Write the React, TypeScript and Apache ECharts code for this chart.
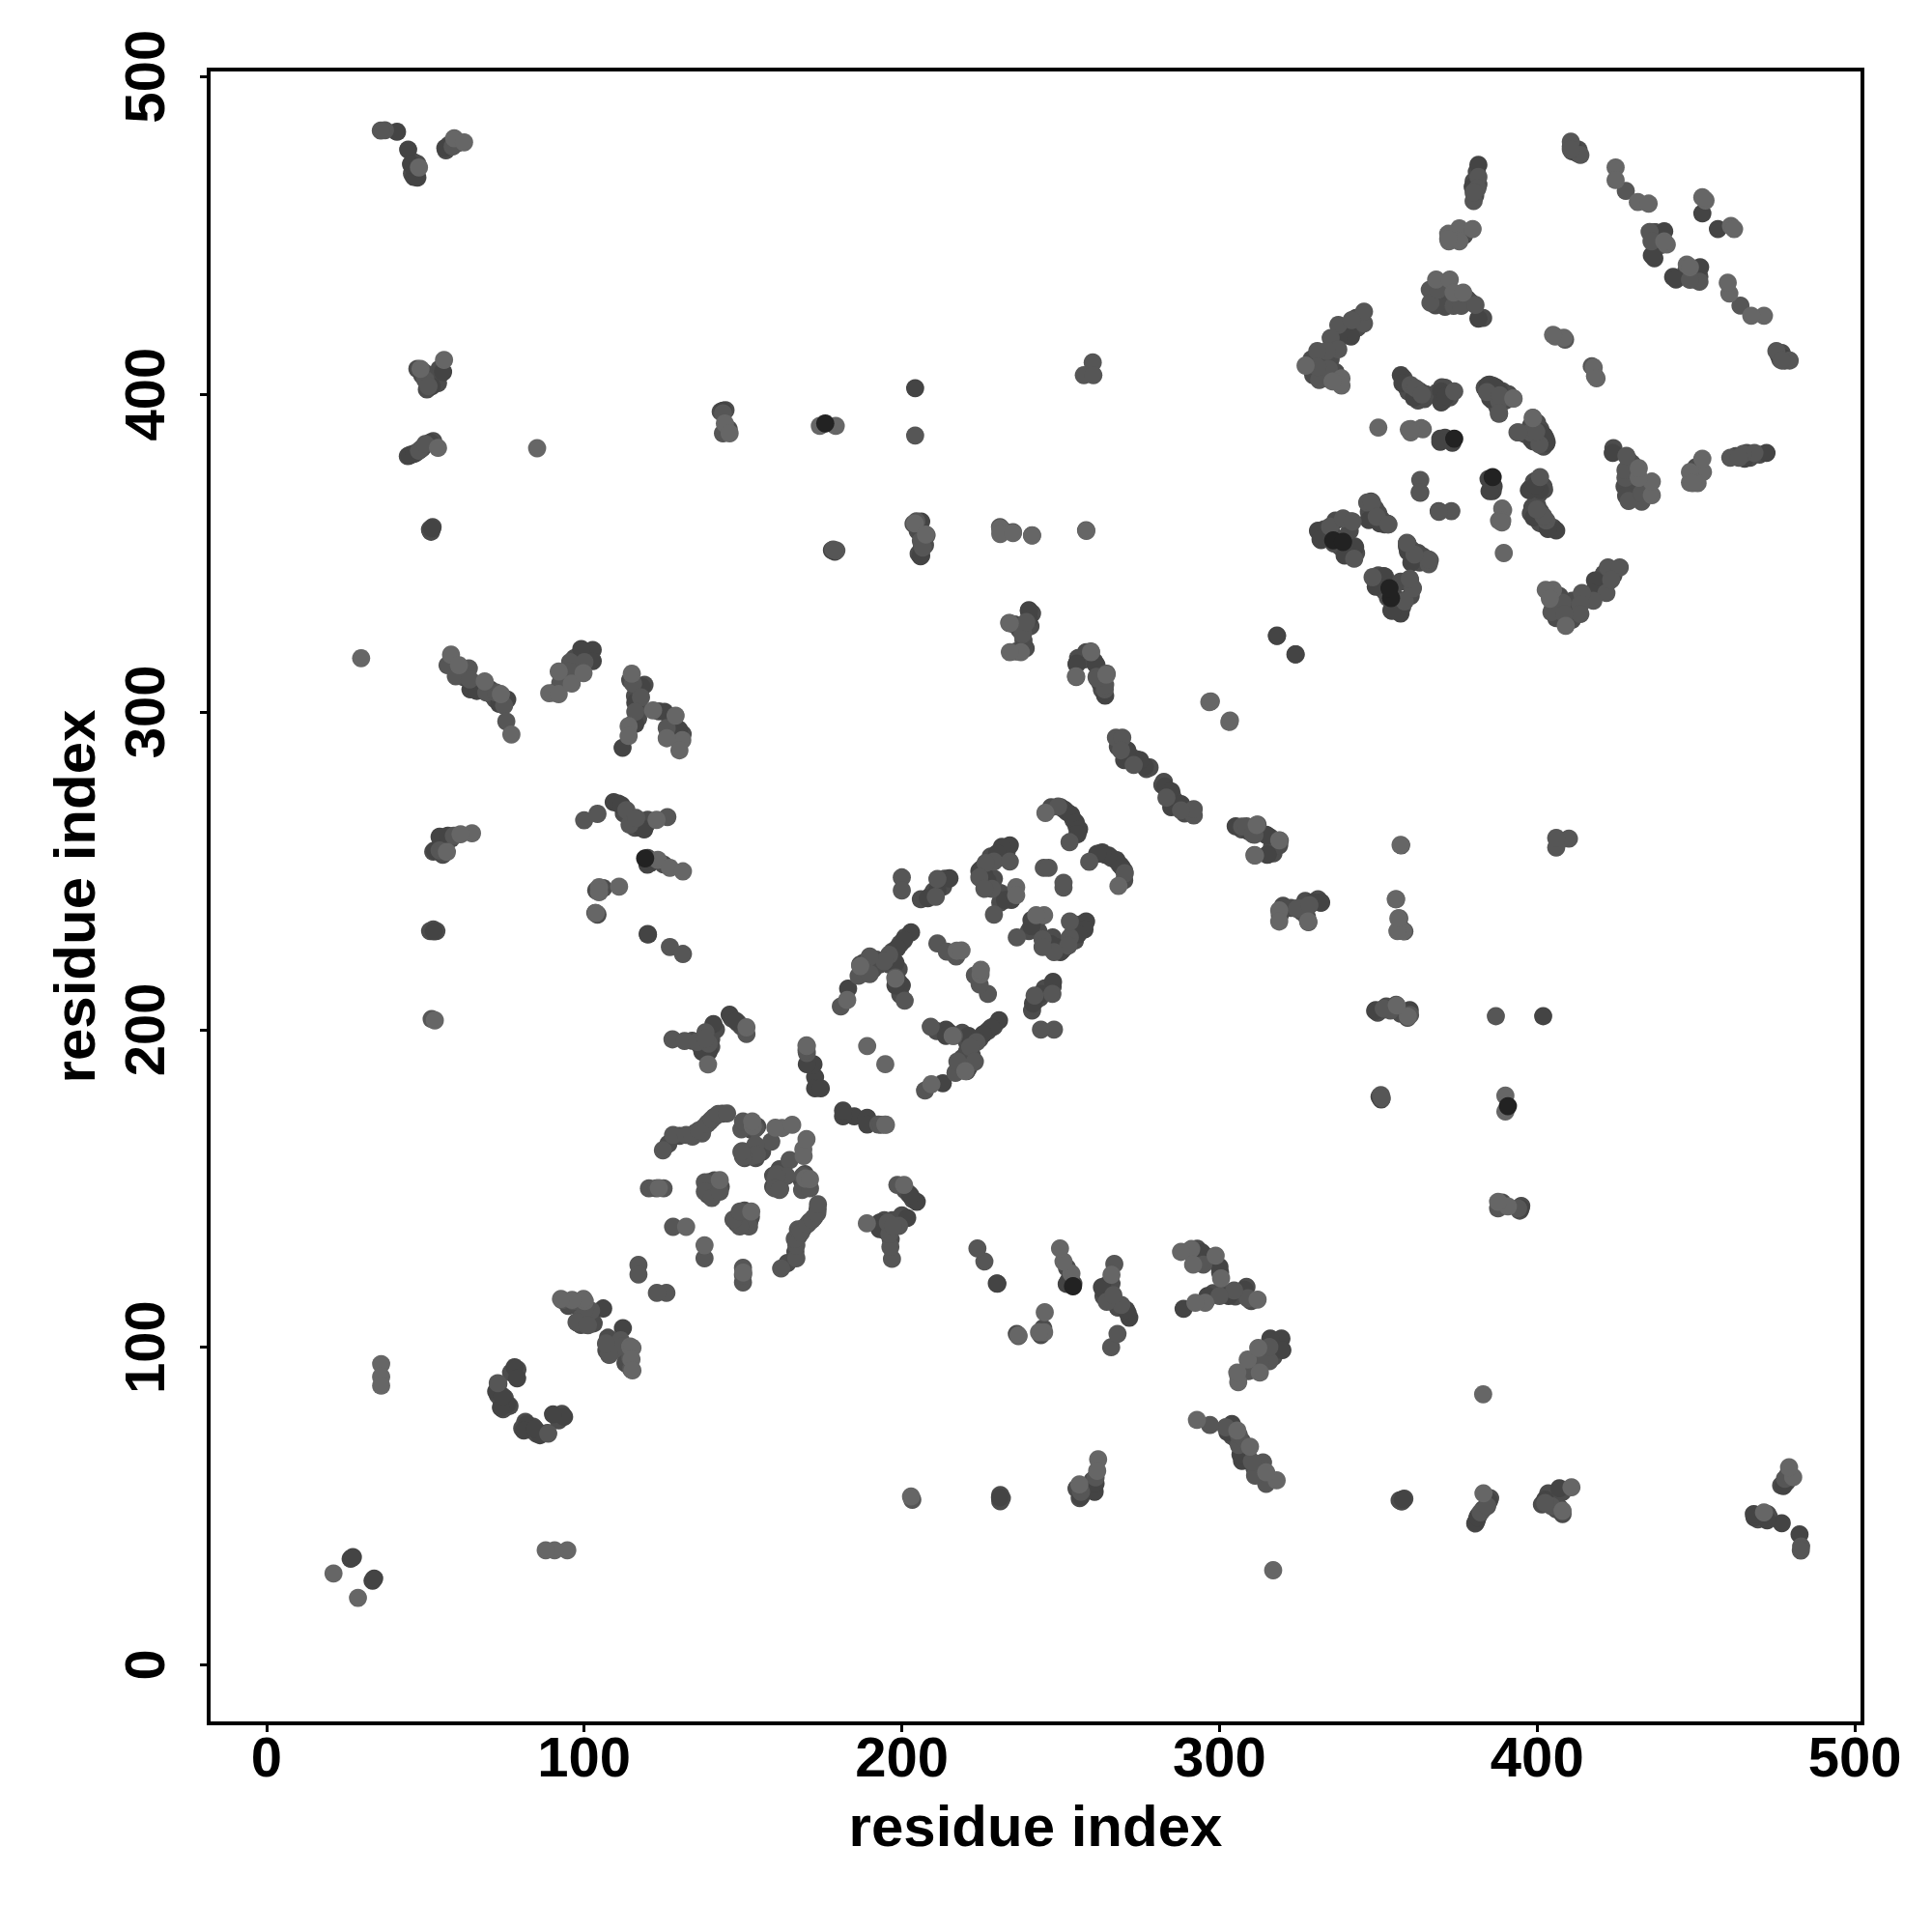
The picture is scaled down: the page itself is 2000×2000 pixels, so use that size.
import React, { useEffect, useRef } from "react";
import * as echarts from "echarts";

const tickValues = [0, 100, 200, 300, 400, 500];
const axisTitle = "residue index";

// Contacts; a contact map shows each pair (i, j) and (j, i).
const deepContacts: number[][] = [
  [47.5, 408], [49, 406], [51, 406], [53, 405.5], [54, 403.5], [53, 404], [50.5, 401.5], [54.5, 408], [49.5, 407],
  [45.5, 381], [47, 381.5], [49, 383], [52.5, 385.2], [44.5, 380.5], [45.8, 469.5], [47, 470], [46.5, 473], [47.5, 472.5],
  [56.5, 476.8], [57.5, 478.5], [60, 479], [61, 313], [62, 311], [65.5, 309], [67, 307.5], [70.5, 307], [72, 304], [71, 305.3],
  [55, 259], [56, 260.5], [58, 260], [52.5, 256], [55.5, 255], [112.5, 268], [115, 266], [116, 263.5], [119.5, 264.5], [120, 266],
  [104.2, 236.2], [103.5, 236.7], [106, 244.5], [103.8, 243.8], [143, 394.5], [144.5, 395], [145.5, 389],
  [205, 357], [206.5, 355], [205.3, 349.8], [207.3, 352.5], [205.5, 358], [232, 357],
  [241, 331], [240.5, 327], [237, 326], [235.5, 327.5], [236, 319], [239, 320], [238.3, 322.5],
  [262, 312.5], [263, 307], [255.5, 317], [257.5, 316.5], [258, 318.8], [260.5, 316], [272, 286], [274, 285], [268, 289], [277, 282], [278, 282.5], [275.5, 283.5],
  [329, 411], [330.5, 411.5], [335, 411], [336, 415], [339, 419], [340.5, 420], [343, 424], [343.5, 421], [329.5, 406], [333, 405], [336.5, 407],
  [370, 434], [372, 433.5], [370, 431], [372, 429], [371, 427.5], [375, 430], [378, 430], [368, 428], [379, 429], [383, 424],
  [373, 450], [377, 450], [380.5, 462.5], [381, 470], [381.5, 466], [380, 467], [411, 476.5], [413, 477], [410.6, 478],
  [437, 451], [438, 449], [439, 447], [437.5, 446.5], [449.5, 438], [450, 436], [451, 437],
  [358, 405], [359, 402], [361, 400], [359.5, 400.8], [363, 401], [364.5, 398.5], [365, 400], [362.5, 398],
  [369, 399], [370.5, 398], [372.5, 399], [368.5, 400.5], [371, 402], [370, 402.2],
  [386, 400.5], [387, 399], [388, 398.8], [389.5, 399], [386, 402.7], [389, 401], [383.5, 402], [390.7, 399.5], [387.5, 396],
  [386, 398], [386.5, 400], [386, 401], [385.5, 401.5], [385, 403], [388, 396.5], [390, 398], [390, 399.5], [391, 400],
  [332.5, 355.5], [333, 357.5], [336.5, 355], [338, 352], [340, 350], [340.5, 352], [341, 357], [343, 350], [336, 353],
  [347, 363], [348, 361.5], [351, 360.5], [352, 359], [349, 364], [350, 362.5], [342.6, 352.1], [339, 351], [341.4, 360], [336.5, 360.2], [335, 358.1], [332, 354.1],
  [353, 359.2], [349.7, 361.7], [348.2, 363.2], [347.7, 366.2], [206.3, 351.6], [207.8, 355.6], [205.2, 358.7], [203.7, 359.2],
  [201, 229], [199.5, 227], [197, 224.5], [192, 222], [188, 221], [187.5, 218.5], [191, 219], [196, 220.5], [199, 219], [199, 215], [199.5, 211], [195.5, 222.5], [193, 220.5],
  [233, 256], [232, 255], [230.5, 254], [228, 254.5], [227.5, 252], [226, 251.5], [225, 250.5], [225.5, 247], [226.5, 245], [229, 247.5], [231, 243], [233, 241.5], [231, 240], [235.5, 243.5],
  [247, 270], [250, 270], [252, 268.5], [254, 266], [255, 264], [255.5, 262.5],
  [126.5, 164], [130, 166.5], [139.5, 171], [141, 172.5], [143.5, 173.5], [135, 167.5], [137.5, 169],
  [152.5, 168.5], [154.5, 169.5], [152, 169.5], [151, 160.5], [156, 161.5], [154, 159.5], [152, 161.5], [150.5, 159.5],
  [139.5, 152], [141, 152.5], [141, 149], [139, 148], [143, 150.5],
  [146.5, 203.5], [148.5, 202], [149.5, 201], [141.5, 200], [140, 197], [138.5, 194], [136.5, 195], [140, 194.5], [134, 196.5],
  [73, 86], [74, 83], [73, 88.5], [75, 84], [76.5, 81.5], [74.5, 80.5], [72.8, 85], [79, 93], [77, 92],
  [95, 113], [98.5, 112.5], [99, 107], [103, 107.5],
  [97, 317], [98, 314], [101, 318], [90.5, 306], [94, 311], [93.5, 309], [116, 305], [117, 302], [117, 298], [115, 296], [119, 308.5], [114.5, 310],
  [127, 293], [128.5, 296], [131, 293], [128.5, 292], [123.5, 300.2], [120, 254], [121, 252.5], [125, 252],
  [212, 246], [213, 245], [213.5, 247.5], [209, 242], [206, 241], [210, 243.5], [51.8, 356.7], [52.3, 358.2], [51.5, 231], [53.5, 231],
  [51.5, 357.2], [52.5, 231.5], [51.5, 357.5],
];

const darkContacts: number[][] = [
  [44.6, 477], [46.4, 468.4], [47.5, 468.2], [45.5, 472.4], [41.1, 482.6], [56.3, 477.5],
  [52, 402.5], [55.6, 407], [44.9, 380.7], [46.4, 381.2], [51.5, 384.8], [52.1, 357.7],
  [143.7, 394.8], [206.1, 359.9], [206.1, 349.2], [204.2, 401.9], [240, 332], [240, 329.4],
  [255.1, 315.2], [261.3, 314.7], [262.4, 309.2], [264, 305.1], [75.8, 303.9], [73.3, 302.5], [64.2, 307.1], [66.2, 306.6],
  [102.7, 319.5], [102.7, 316], [99.1, 319.8], [118.1, 307.9], [116.1, 302.9], [116.1, 296.2], [112.1, 288.7], [125.3, 300], [129.9, 294.4],
  [53, 256.4], [54.5, 260.7], [57.1, 261], [109.3, 271.6], [110.8, 271.1], [111.8, 270.6], [117.9, 263.5], [118.9, 263], [119.9, 251.9],
  [120.1, 229.9], [52.7, 230.9], [140.7, 201.7], [145.8, 204.7], [147.8, 202.7], [139.2, 193], [137.2, 193],
  [78.1, 93.7], [78.9, 90.2], [75.8, 82], [73.8, 81], [72.3, 86.1], [74.3, 84.6],
  [106, 112.2], [26.5, 33.4], [27.2, 33.9], [172.2, 189.1], [172.7, 185], [172.7, 181.5], [174.5, 181.5], [172, 188.9], [170.1, 189.1],
  [202.9, 230.6], [200.6, 228.1], [198.5, 225.6], [198, 221], [200, 213.9], [198, 213.9], [183.1, 212.9],
  [211.2, 243.8], [215, 247.6], [208.2, 241.3], [234, 258], [231.5, 257.5], [230, 255.5], [224.4, 249.9], [225.9, 248.9], [226.9, 246.9], [234.5, 240.8], [232.5, 240.8],
  [251.2, 269.2], [253.3, 267.6], [254.8, 265.1], [255.8, 263.1], [255.3, 261.5], [270, 284.8], [276.5, 282.8], [275, 284.8], [271, 287.9],
  [315, 255], [318.1, 323.9], [324, 318.1], [357.1, 406], [357.6, 403.4], [361.2, 398.9], [369.8, 400.9], [369.8, 397.4], [371.3, 399.4],
  [384.5, 402.9], [387, 401.9], [385.5, 398.9], [388, 400.9], [384.7, 402.7], [387, 402.2], [385.2, 398.7], [363.2, 369],
  [331, 357], [331.8, 354.3], [342.7, 351.7], [339.4, 349.2], [347, 360.4], [353, 359], [350.5, 359.3], [341.4, 418.2], [337.4, 417.2],
  [381.5, 472.2], [379.7, 465.3], [436.9, 442.8], [440, 451.3], [436.1, 443.7], [452, 456.9], [411.2, 478], [412.4, 476], [381.5, 423.8],
  [331.8, 240], [315.1, 261], [205.9, 349], [178.9, 350.4], [178, 350.9], [230.1, 120], [186.9, 220.4],
  [369.5, 386], [373.3, 384.7], [371, 386.3], [369.5, 385],
];

const midContacts: number[][] = [
  [37.3, 483.1], [36, 483], [50, 404.5], [51, 402.5], [48, 382.2], [50, 384.3], [58.6, 478], [143.7, 387.7], [143.7, 394],
  [204.2, 387], [204.6, 360], [206, 353.8], [206.6, 351.7], [260.1, 410], [257.3, 406], [260.3, 406],
  [238.5, 327.4], [238, 324.4], [261.3, 311], [263.9, 307.1], [57, 314.7], [63.7, 313.7], [59.6, 311.2], [64, 310.2], [69.2, 306.1], [72.3, 306.1], [74.8, 302], [75.5, 297],
  [92.5, 309.1], [95.6, 315.7], [95.1, 312.7], [100.1, 315.7], [115.4, 308.9], [117.9, 304.6], [116.1, 300], [126, 294.9],
  [54.5, 256.4], [59, 261], [113.3, 269.1], [114.3, 264.5], [116.4, 266.6], [126.2, 266.9], [100, 265.9], [104.2, 267.9],
  [127, 226], [131.1, 223.8], [127.8, 196.9], [131.6, 196.4], [135.6, 196.1], [138.2, 199.1], [139.2, 195.6], [151.1, 198.6], [138.2, 197.2],
  [93.1, 114.8], [96.6, 114.5], [99.2, 109.4], [102.2, 111.5], [97.6, 107.9], [101.2, 106.9], [112.3, 100.3], [107.8, 97.8], [107, 101],
  [117.1, 125.9], [117.1, 122.9], [128, 137.9], [120.4, 150], [122.7, 150], [125, 150],
  [72.8, 88.7], [124.8, 162], [128, 166.8], [132.1, 166.8], [134.1, 166.3], [137.1, 167.3], [136.1, 168.3], [138.7, 170.3], [140.2, 171.8], [142.2, 173.4], [145, 173.6],
  [151.8, 170.3], [153.9, 168.8], [158.9, 164.7], [153.9, 163.7], [149.8, 161.7], [152.9, 160.2], [154.4, 160.7], [153.6, 160.5], [150, 160], [149.5, 161.5], [149.5, 168.6], [150, 171.1],
  [138, 151.9], [138, 149], [140.2, 147], [142.7, 149], [170.1, 192.6], [170, 193.5], [180.8, 207.3],
  [196, 223.5], [194.5, 221.5], [189.9, 223], [186.4, 216.9], [189.9, 217.5], [198, 216.4], [200.9, 209.1], [200, 247.9], [200, 243.8], [211.2, 247.4], [210.7, 241.8],
  [211.2, 227.1], [214.2, 224.5], [217.1, 223], [229, 252.9], [226.4, 252.4], [224.4, 247.9], [228.4, 244.3], [226, 244.3], [234, 252.9], [229, 236.2],
  [249.2, 270.2], [252.8, 259], [244.7, 250.9], [246.2, 250.9], [267.4, 291.9], [269.4, 291.9], [269, 287.9], [273, 283.3],
  [254.9, 311], [264, 308.5], [264.5, 312], [261.5, 310.5], [259.5, 319], [238.2, 324.7], [239.2, 328.3], [233.8, 328],
  [360.2, 402.9], [361.7, 401.9], [363.7, 399.9], [373.9, 400.9], [388, 397.9], [384.2, 400.7], [388.2, 399.7], [388, 393.8], [388, 394.1], [363.2, 373],
  [334.8, 358.3], [338.9, 360.9], [341.9, 359.9], [342.4, 348.2], [346.5, 365.9], [348, 365.9], [349.5, 361.4], [353.2, 359],
  [337.4, 421.8], [335, 417.7], [337.4, 414.1], [333.8, 413.6], [330.8, 413.6], [331.4, 404.5], [334.4, 408], [330.8, 408.6], [345.5, 422.3], [345.5, 426], [341.6, 423.3],
  [381.5, 468.4], [381.2, 464.8], [380, 460.8], [366.2, 432.9], [366.4, 428.8], [368.8, 432.9], [373.7, 427.8], [376.1, 427.8], [380.6, 428.1],
  [413.6, 475.3], [427.9, 464], [435.4, 451.1], [436, 448.1], [408.8, 417.2], [410.6, 479.5], [410.6, 477],
  [363, 369.1], [380, 463.5], [179.4, 350.8], [178.4, 351.1],
  [235, 356.6], [231.1, 356.6], [230.9, 358.2], [241, 355.6], [258, 357.2], [52, 203.3],
];

const lightContacts: number[][] = [
  [59.1, 480.6], [62.2, 479.3], [48, 471.4], [55.9, 410.8], [48.5, 408], [54, 383.1], [85.2, 383],
  [144.3, 390.8], [145.8, 387.7], [174.2, 390], [179.2, 390], [204.1, 359.3], [207.6, 355.8],
  [231, 357.8], [231, 356], [235, 356.3], [241, 355.5], [258.1, 357], [234, 327.9], [237.5, 318.8], [234, 318.8],
  [259.6, 318.8], [264.4, 311.7], [254.8, 311.2], [58.1, 318], [60.6, 314.7], [68.7, 309.6], [73.8, 305.6], [77.1, 292.9],
  [89, 305.9], [92, 305.6], [92, 312.7], [96.1, 308.9], [99.8, 312.2], [115, 312], [114, 295.5], [114, 292.4],
  [121.7, 300.5], [128.8, 298.8], [130.9, 291.1], [130, 287.9], [126, 291.7], [64.7, 261.8], [61.1, 261.5], [56.8, 255.9],
  [122.8, 266], [123.2, 253.4], [127, 250.9], [131.1, 249.8], [104.7, 244.8], [104.7, 243.2], [111, 245], [103.7, 236.7],
  [53, 202.9], [151.1, 200.7], [139, 189], [100.2, 114.5], [115.2, 99.8], [114.9, 96.2], [115.2, 92.7], [36.1, 94.7], [36.1, 90.7], [36.1, 87.9],
  [21.1, 28.8], [132.1, 137.9], [162.3, 169], [160.2, 169.1], [153.1, 169.6], [152.9, 171.1], [142.7, 152.6],
  [123.5, 150.1], [170.1, 194.8], [189.1, 194.8], [170, 195], [182.8, 209.3], [186.9, 220], [198, 216], [217.3, 224.8], [218.8, 224.9],
  [236, 244.8], [236, 242.3], [245.2, 268.2], [165.5, 170], [29.8, 316.9],
  [297.3, 303.3], [296.8, 303.1], [363.5, 389.3], [350, 389.5], [360.2, 388], [364, 389], [360.2, 389],
  [392.6, 398.6], [398.7, 392.5],
  [359.6, 388.9], [338.4, 405], [338.4, 402.7], [335.6, 404], [327.1, 409], [372.2, 448.1], [375.5, 452.2], [379.7, 452], [375.5, 448.1],
  [368.2, 436.1], [372.5, 436.1], [373.7, 432], [376.7, 432], [424.7, 471.4], [424.7, 467.4], [431.7, 460.5], [435.1, 460],
  [453, 461], [452, 462], [440.8, 447.1], [405.7, 418.2], [417.8, 408.4], [418.7, 405], [448.1, 440],
  [372, 450.5], [372, 448.9],
];

const blackContacts: number[][] = [
  [175.9, 390.8], [335.8, 354], [338.9, 353.5], [373.9, 386], [119.2, 253.9],
];

const series = [
  { values: deepContacts, colour: "#4c4c4c" },
  { values: darkContacts, colour: "#444444" },
  { values: midContacts, colour: "#565656" },
  { values: lightContacts, colour: "#666666" },
  { values: blackContacts, colour: "#222222" },
];

export default function App() {
  const ref = useRef<HTMLDivElement | null>(null);
  useEffect(() => {
    const chart = echarts.init(ref.current!, undefined, { renderer: "svg" });
    const axis = {
      type: "value",
      name: axisTitle,
      nameLocation: "middle",
      nameTextStyle: { fontFamily: "Liberation Sans", fontWeight: "bold", fontSize: 60, color: "#000" },
      axisLine: { show: true, onZero: false, lineStyle: { color: "#000", width: 4 } },
      axisTick: { show: true, length: 9, customValues: tickValues, lineStyle: { color: "#000", width: 3 } },
      splitLine: { show: false },
    };
    const label = { fontFamily: "Liberation Sans", fontWeight: "bold", fontSize: 58, color: "#000", customValues: tickValues, showMinLabel: true, showMaxLabel: true, hideOverlap: false };
    chart.setOption({
      animation: false,
      backgroundColor: "#fff",
      grid: { left: 216, top: 72, width: 1712, height: 1712, show: true, borderColor: "#000", borderWidth: 4, backgroundColor: "transparent" },
      xAxis: { ...axis, min: -18.2, max: 502.4, nameGap: 76, axisLabel: { ...label, margin: 5 } },
      yAxis: { ...axis, min: -18.4, max: 502.2, nameGap: 109, axisLabel: { ...label, rotate: 90, margin: 38 } },
      series: series.map((s) => ({
        type: "scatter",
        symbol: "circle",
        symbolSize: 18.8,
        silent: true,
        clip: false,
        itemStyle: { color: s.colour, opacity: 1 },
        data: s.values.flatMap(([i, j]) => [[i, j], [j, i]]),
      })),
    });
    return () => chart.dispose();
  }, []);
  return <div ref={ref} style={{ position: "absolute", left: 0, top: 0, width: 2000, height: 2000 }} />;
}
